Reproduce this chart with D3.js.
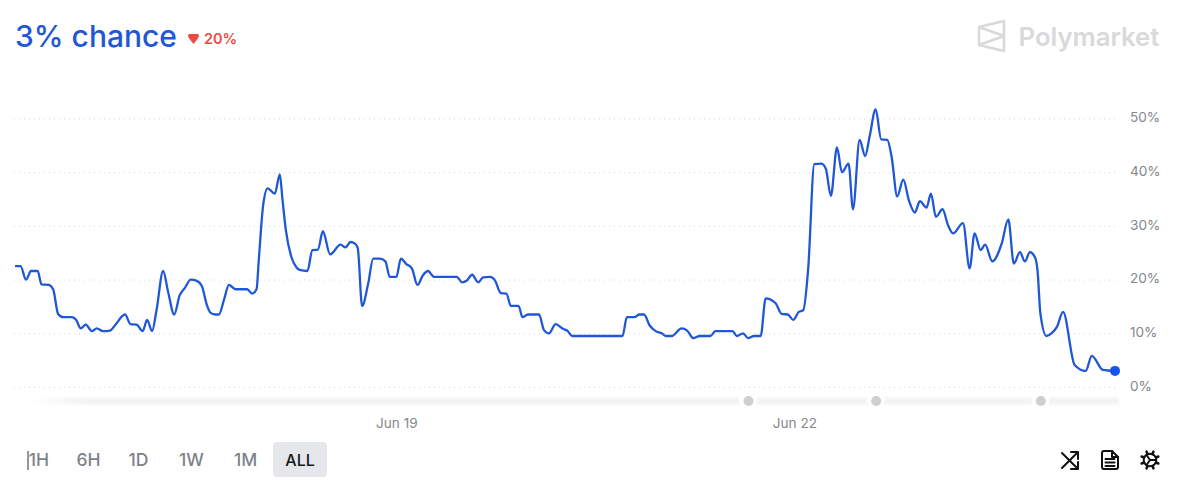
<!DOCTYPE html>
<html>

<head>
  <title>Polymarket chance</title>
  <script type="text/javascript" src="https://cdn.jsdelivr.net/npm/d3@7"></script>

  <style type="text/css">
    body {
      margin: 0;
      background: #fff;
    }

    svg text {
      font-family: Inter, "Noto Sans", sans-serif;
    }

    .line {
      fill: none;
      stroke: #1f57d6;
      stroke-width: 2.3;
    }

    .grid line {
      stroke: #d4d5d8;
      stroke-width: 1;
      stroke-dasharray: 1 4;
    }

    .axis text {
      fill: #84888d;
      font-size: 13.6px;
    }

    .icon {
      fill: none;
      stroke: #111;
      stroke-width: 2;
      stroke-linecap: round;
      stroke-linejoin: round;
    }
  </style>
</head>

<body>
  <script>
  // Width and height
  const w = 1191;
  const h = 498;

  // Hours counted from Jun 19 00:00
  const hours = [
    -68.9, -67.9, -66.9, -66.0, -64.8, -64.1, -62.8, -62.0, -61.1, -60.2, -58.7, -57.9, -57.0, -56.1, -55.0, -54.1,
    -53.0, -51.7, -50.8, -49.0, -48.0, -46.9, -45.8, -45.0, -44.1, -43.3, -42.1, -41.2, -40.1, -39.1, -38.2, -37.1,
    -36.1, -35.1, -34.2, -33.5, -32.7, -32.0, -31.1, -30.2, -29.0, -26.9, -26.0, -25.2, -24.8, -24.0, -23.2, -21.9,
    -21.0, -20.5, -19.9, -18.9, -18.0, -17.4, -16.0, -15.1, -14.1, -13.2, -11.9, -10.0, -9.1, -8.2, -7.4, -6.9,
    -6.1, -5.0, -4.1, -2.9, -1.9, -1.1, 0.1, 0.9, 1.9, 2.9, 3.9, 4.9, 5.8, 6.9, 11.0, 12.0,
    12.8, 13.8, 14.9, 15.8, 17.1, 17.9, 19.0, 20.0, 20.8, 22.2, 22.9, 23.9, 25.9, 26.8, 27.7, 28.9,
    30.3, 31.0, 31.9, 41.0, 41.8, 43.2, 44.0, 44.9, 45.9, 47.0, 48.1, 48.8, 49.9, 51.7, 52.7, 53.8,
    55.0, 56.9, 57.8, 60.9, 61.7, 62.8, 63.7, 64.8, 66.0, 66.9, 68.7, 69.8, 70.9, 71.9, 72.9, 73.7,
    74.6, 75.7, 77.0, 77.8, 78.7, 79.8, 80.7, 81.9, 82.7, 83.9, 84.9, 85.7, 86.8, 87.8, 88.9, 89.7,
    90.7, 91.8, 92.8, 93.9, 94.8, 96.0, 96.8, 97.7, 98.9, 99.9, 100.8, 102.6, 103.8, 104.7, 105.8, 106.6,
    107.9, 109.6, 110.8, 111.8, 112.9, 113.8, 114.7, 115.6, 116.1, 116.6, 117.7, 118.6, 119.6, 120.7, 122.8, 124.8,
    125.9, 127.9, 130.1
  ];

  const chance = [
    22.5, 22.5, 20.0, 21.6, 21.6, 19.1, 19.0, 18.2, 13.6, 13.0, 13.0, 12.6, 10.9, 11.6, 10.4, 10.9,
    10.4, 10.5, 11.5, 13.5, 11.7, 11.6, 10.4, 12.5, 10.4, 14.3, 21.6, 17.7, 13.5, 17.1, 18.4, 20.0,
    19.8, 18.8, 15.3, 13.8, 13.5, 13.5, 16.2, 19.0, 18.2, 18.2, 17.4, 18.2, 23.6, 33.9, 37.0, 36.0,
    39.6, 34.8, 29.2, 24.2, 22.3, 21.8, 21.6, 25.5, 25.6, 29.0, 24.7, 26.5, 26.0, 27.0, 26.7, 25.9,
    15.1, 19.3, 23.9, 23.9, 23.4, 20.5, 20.5, 23.9, 22.9, 22.1, 19.0, 20.8, 21.6, 20.5, 20.5, 19.5,
    19.8, 20.9, 19.5, 20.4, 20.5, 19.9, 17.5, 17.4, 15.1, 15.1, 13.0, 13.5, 13.5, 10.6, 10.0, 11.7,
    10.8, 10.5, 9.5, 9.5, 13.0, 13.0, 13.5, 13.5, 11.5, 10.4, 10.0, 9.5, 9.5, 10.9, 10.5, 9.1,
    9.5, 9.5, 10.4, 10.4, 9.5, 10.0, 9.1, 9.5, 9.5, 16.5, 15.6, 13.6, 13.5, 12.5, 14.0, 14.3,
    22.1, 41.5, 41.6, 40.6, 35.6, 44.6, 40.0, 41.6, 33.1, 46.0, 43.0, 46.6, 51.7, 46.1, 46.0, 42.8,
    35.5, 38.6, 34.8, 32.5, 34.6, 33.4, 36.0, 31.7, 33.1, 30.1, 28.6, 30.5, 22.1, 28.6, 25.5, 26.5,
    23.4, 26.7, 31.2, 23.0, 25.1, 23.4, 25.1, 24.2, 21.5, 13.7, 9.5, 10.0, 11.2, 14.0, 4.1, 3.0,
    5.8, 3.2, 3.0
  ];

  const yTicks = [0, 10, 20, 30, 40, 50];
  const xTickHours = [0, 72];
  const eventHours = [63.7, 86.8, 116.6];
  const ranges = ["1H", "6H", "1D", "1W", "1M", "ALL"];
  const rangeCenters = [39, 88.5, 138.5, 191.5, 245.5, 300];

  const titleText = "3% chance";
  const changeText = "20%";
  const brandText = "Polymarket";

  // For converting hours to Dates
  const startDate = new Date(2024, 5, 19);
  const toDate = function(hour) {
    return new Date(startDate.getTime() + hour * 3600000);
  };
  const formatTime = d3.timeFormat("%b %d");

  const dataset = hours.map(function(d, i) {
    return { date: toDate(d), value: chance[i] };
  });

  // Create scale functions
  const xScale = d3.scaleTime()
    .domain(d3.extent(dataset, function(d) { return d.date; }))
    .range([15, 1115]);

  const yScale = d3.scaleLinear()
    .domain([0, 50])
    .range([387, 118.5]);

  const line = d3.line()
    .curve(d3.curveMonotoneX)
    .x(function(d) { return xScale(d.date); })
    .y(function(d) { return yScale(d.value); });

  // Create SVG element
  const svg = d3.select("body")
    .append("svg")
    .attr("width", w)
    .attr("height", h);

  // Timeline band under the plot, fades out on the left
  const defs = svg.append("defs");
  const fade = defs.append("linearGradient").attr("id", "fade");
  fade.append("stop").attr("offset", 0).attr("stop-color", "#f3f3f3").attr("stop-opacity", 0);
  fade.append("stop").attr("offset", 0.05).attr("stop-color", "#f3f3f3").attr("stop-opacity", 1);
  defs.append("filter").attr("id", "soft")
    .append("feGaussianBlur").attr("stdDeviation", 1);

  // Gridlines
  svg.append("g")
    .attr("class", "grid")
    .selectAll("line")
    .data(yTicks)
    .enter()
    .append("line")
    .attr("x1", 14)
    .attr("x2", 1118)
    .attr("y1", function(d) { return yScale(d) + 0.5; })
    .attr("y2", function(d) { return yScale(d) + 0.5; });

  svg.append("rect")
    .attr("x", 30)
    .attr("y", 397.5)
    .attr("width", 1089)
    .attr("height", 7)
    .attr("rx", 2)
    .attr("fill", "url(#fade)")
    .attr("filter", "url(#soft)");

  svg.selectAll(".gap")
    .data(eventHours)
    .enter()
    .append("circle")
    .attr("class", "gap")
    .attr("cx", function(d) { return xScale(toDate(d)); })
    .attr("cy", 401)
    .attr("r", 9)
    .attr("fill", "#fff");

  svg.selectAll(".event")
    .data(eventHours)
    .enter()
    .append("circle")
    .attr("class", "event")
    .attr("cx", function(d) { return xScale(toDate(d)) + 0.5; })
    .attr("cy", 401)
    .attr("r", 5)
    .attr("fill", "#cfcfd0");

  // Create line
  svg.append("path")
    .datum(dataset)
    .attr("class", "line")
    .attr("d", line);

  svg.append("circle")
    .attr("cx", xScale(dataset[dataset.length - 1].date))
    .attr("cy", yScale(dataset[dataset.length - 1].value))
    .attr("r", 5)
    .attr("fill", "#1652f0");

  // Define axes
  const xAxis = d3.axisBottom(xScale)
    .tickValues(xTickHours.map(toDate))
    .tickFormat(formatTime)
    .tickSize(0)
    .tickPadding(0);

  const yAxis = d3.axisRight(yScale)
    .tickValues(yTicks)
    .tickFormat(function(d) { return d + "%"; })
    .tickSize(0)
    .tickPadding(0);

  svg.append("g")
    .attr("class", "axis")
    .attr("transform", "translate(0.5,418)")
    .call(xAxis)
    .call(function(g) { g.select(".domain").remove(); });

  svg.append("g")
    .attr("class", "axis")
    .attr("transform", "translate(1130,-1)")
    .call(yAxis)
    .call(function(g) { g.select(".domain").remove(); });

  // Header
  svg.append("text")
    .attr("x", 15)
    .attr("y", 47)
    .attr("font-size", 30)
    .attr("font-weight", 500)
    .attr("fill", "#1f57d6")
    .text(titleText);

  svg.append("path")
    .attr("d", "M188 35.5 Q188 34 189.5 34 L197.5 34 Q199 34 199 35.5 Q199 37.5 193.5 44 Q188 37.5 188 35.5 Z")
    .attr("fill", "#f04a40");

  svg.append("text")
    .attr("x", 204)
    .attr("y", 44)
    .attr("font-size", 14.5)
    .attr("font-weight", 600)
    .attr("fill", "#f04a40")
    .text(changeText);

  // Brand mark
  svg.append("path")
    .attr("d", "M979 27 L1004 21 L1004 51 L979 45 Z M979 27 L1004 36 L979 45")
    .attr("fill", "none")
    .attr("stroke", "#d8d9db")
    .attr("stroke-width", 2.6)
    .attr("stroke-linejoin", "round");

  svg.append("text")
    .attr("x", 1018.5)
    .attr("y", 45.5)
    .attr("font-size", 25.7)
    .attr("font-weight", 600)
    .attr("fill", "#d8d9db")
    .text(brandText);

  // Range buttons
  svg.append("rect")
    .attr("x", 273)
    .attr("y", 442)
    .attr("width", 54)
    .attr("height", 35)
    .attr("rx", 4)
    .attr("fill", "#e5e7ea");

  svg.selectAll(".range")
    .data(ranges)
    .enter()
    .append("text")
    .attr("class", "range")
    .attr("x", function(d, i) { return rangeCenters[i]; })
    .attr("y", 466)
    .attr("text-anchor", "middle")
    .attr("font-size", function(d) { return d === "ALL" ? 16 : 17.5; })
    .attr("font-weight", 500)
    .attr("fill", function(d) { return d === "ALL" ? "#17181a" : "#7d828a"; })
    .text(function(d) { return d; });

  svg.append("line")
    .attr("x1", 28)
    .attr("x2", 28)
    .attr("y1", 451)
    .attr("y2", 470)
    .attr("stroke", "#70747b")
    .attr("stroke-width", 1.5);

  // Toolbar icons
  const shuffle = svg.append("g").attr("class", "icon");
  shuffle.append("path").attr("d", "M1062 453 L1078 469 M1078 462 L1078 469 L1071 469");
  shuffle.append("path").attr("d", "M1062 468 L1078 452 M1071 452 L1078 452 L1078 459");

  const doc = svg.append("g").attr("class", "icon");
  doc.append("path").attr("d", "M1104 451 L1112 451 L1118 457 L1118 467 Q1118 469 1116 469 L1104 469 Q1102 469 1102 467 L1102 453 Q1102 451 1104 451 Z");
  doc.append("path").attr("d", "M1112 451 L1112 457 L1118 457 M1105.5 459 L1114.5 459 M1105.5 462.5 L1114.5 462.5 M1105.5 466 L1114.5 466");

  const gear = svg.append("g").attr("class", "icon").attr("transform", "translate(1150,460)");
  gear.append("circle").attr("r", 6.3);
  gear.append("path").attr("d", "M0 0 L-3.5 -5 M0 0 L-3.5 5 M0 0 L6 0");
  gear.selectAll("line")
    .data(d3.range(8))
    .enter()
    .append("line")
    .attr("x1", 0)
    .attr("y1", -6.5)
    .attr("x2", 0)
    .attr("y2", -9)
    .attr("stroke-width", 2.6)
    .attr("transform", function(d) { return "rotate(" + (d * 45 + 22.5) + ")"; });
  </script>
</body>

</html>
